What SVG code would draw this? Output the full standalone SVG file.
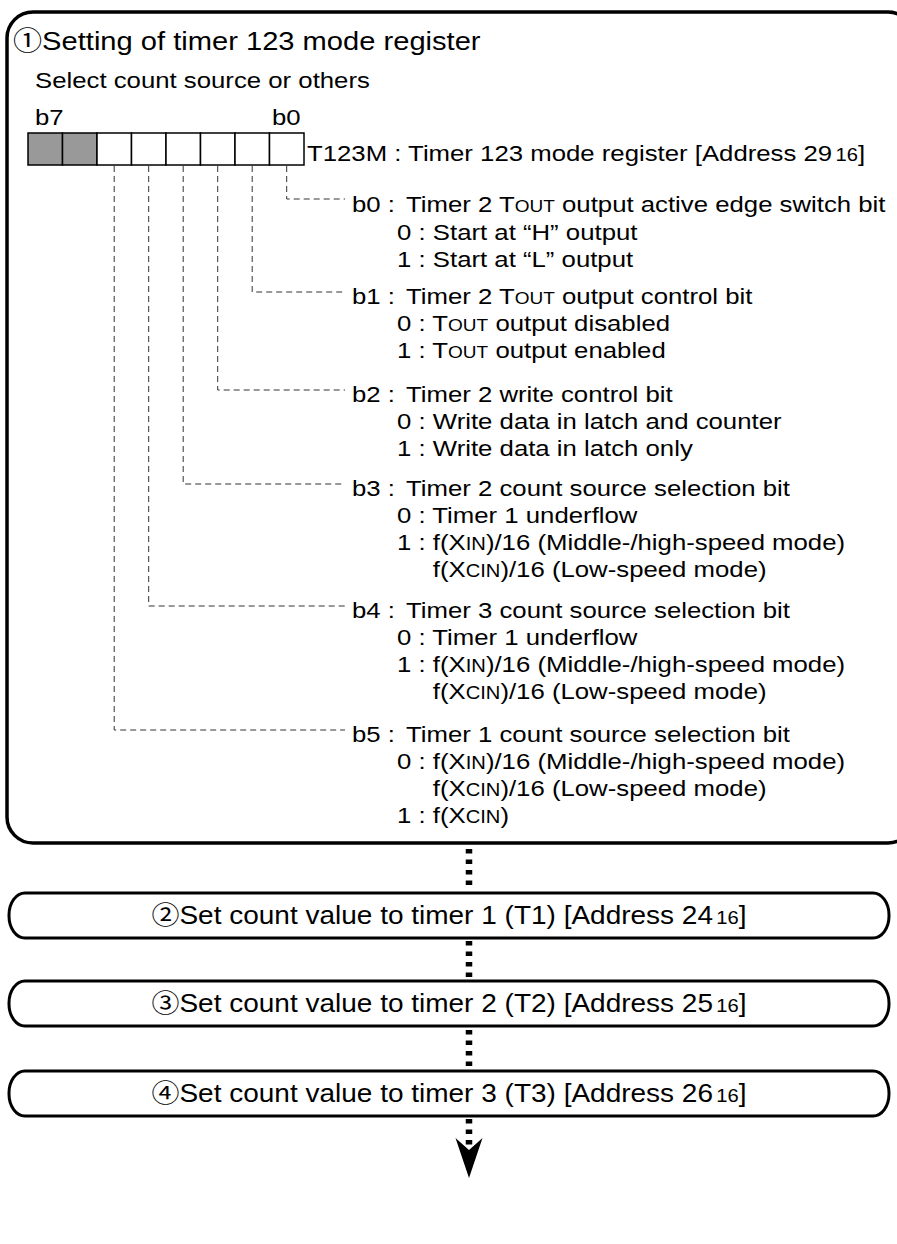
<svg xmlns="http://www.w3.org/2000/svg" width="897" height="1244" viewBox="0 0 897 1244">
<style>
text{font-family:"Liberation Sans",Arial,"Noto Sans CJK JP",sans-serif;fill:#000}
.t{font-size:23px}
.ttl{font-size:26px}
.bx{font-size:25px}
.sc{font-size:17px}
.sub{font-size:18px}
.frame{fill:none;stroke:#000;stroke-width:3.5}
.proc{fill:#fff;stroke:#000;stroke-width:3}
.cell{fill:#fff;stroke:#000;stroke-width:1.5}
.cell.g{fill:#999}
.lead{fill:none;stroke:#333;stroke-width:1;stroke-dasharray:6 4}
.dots{fill:none;stroke:#000;stroke-width:6.5;stroke-dasharray:4.5 6}
</style>
<rect width="897" height="1244" fill="#fff"/>

<g id="node-t123m">
  <path class="frame" d="M7,38 A26,26 0 0 1 33,12 L888,12 A26,26 0 0 1 914,38 L914,817 A26,26 0 0 1 888,843 L33,843 A26,26 0 0 1 7,817 Z"/>
  <g id="register">
    <rect class="cell g" x="28" y="133" width="34.5" height="32"/>
    <rect class="cell g" x="62.5" y="133" width="34.5" height="32"/>
    <rect class="cell" x="97" y="133" width="34.5" height="32"/>
    <rect class="cell" x="131.5" y="133" width="34.5" height="32"/>
    <rect class="cell" x="166" y="133" width="34.5" height="32"/>
    <rect class="cell" x="200.5" y="133" width="34.5" height="32"/>
    <rect class="cell" x="235" y="133" width="34.5" height="32"/>
    <rect class="cell" x="269.5" y="133" width="34.5" height="32"/>
  </g>
  <g id="leaders">
    <path class="lead" d="M286.7,166 V199 H345"/>
    <path class="lead" d="M252.2,166 V292 H345"/>
    <path class="lead" d="M217.7,166 V390 H345"/>
    <path class="lead" d="M183.2,166 V484 H345"/>
    <path class="lead" d="M148.7,166 V606 H345"/>
    <path class="lead" d="M114.2,166 V730 H345"/>
  </g>
  <g transform="scale(1.12 1)">
    <text class="ttl" x="11.6" y="50">①Setting of timer 123 mode register</text>
    <text class="t" x="31.25" y="88">Select count source or others</text>
    <text class="t" x="31.25" y="125">b7</text>
    <text class="t" x="242.9" y="125">b0</text>
    <text class="t" x="274.1" y="161">T123M : Timer 123 mode register [Address 29<tspan class="sub" dx="3">16</tspan>]</text>

    <text class="t" x="314.3" y="212">b0 :</text>
    <text class="t" x="362.5" y="212">Timer 2 T<tspan class="sc">OUT</tspan> output active edge switch bit</text>
    <text class="t" x="354.5" y="240">0 : Start at “H” output</text>
    <text class="t" x="354.5" y="267">1 : Start at “L” output</text>

    <text class="t" x="314.3" y="304">b1 :</text>
    <text class="t" x="362.5" y="304">Timer 2 T<tspan class="sc">OUT</tspan> output control bit</text>
    <text class="t" x="354.5" y="331">0 : T<tspan class="sc">OUT</tspan> output disabled</text>
    <text class="t" x="354.5" y="358">1 : T<tspan class="sc">OUT</tspan> output enabled</text>

    <text class="t" x="314.3" y="402">b2 :</text>
    <text class="t" x="362.5" y="402">Timer 2 write control bit</text>
    <text class="t" x="354.5" y="429">0 : Write data in latch and counter</text>
    <text class="t" x="354.5" y="456">1 : Write data in latch only</text>

    <text class="t" x="314.3" y="496">b3 :</text>
    <text class="t" x="362.5" y="496">Timer 2 count source selection bit</text>
    <text class="t" x="354.5" y="523">0 : Timer 1 underflow</text>
    <text class="t" x="354.5" y="550">1 : f(X<tspan class="sub">IN</tspan>)/16 (Middle-/high-speed mode)</text>
    <text class="t" x="386.4" y="577">f(X<tspan class="sub">CIN</tspan>)/16 (Low-speed mode)</text>

    <text class="t" x="314.3" y="618">b4 :</text>
    <text class="t" x="362.5" y="618">Timer 3 count source selection bit</text>
    <text class="t" x="354.5" y="645">0 : Timer 1 underflow</text>
    <text class="t" x="354.5" y="672">1 : f(X<tspan class="sub">IN</tspan>)/16 (Middle-/high-speed mode)</text>
    <text class="t" x="386.4" y="699">f(X<tspan class="sub">CIN</tspan>)/16 (Low-speed mode)</text>

    <text class="t" x="314.3" y="742">b5 :</text>
    <text class="t" x="362.5" y="742">Timer 1 count source selection bit</text>
    <text class="t" x="354.5" y="769">0 : f(X<tspan class="sub">IN</tspan>)/16 (Middle-/high-speed mode)</text>
    <text class="t" x="386.4" y="796">f(X<tspan class="sub">CIN</tspan>)/16 (Low-speed mode)</text>
    <text class="t" x="354.5" y="823">1 : f(X<tspan class="sub">CIN</tspan>)</text>
  </g>
</g>

<g id="connectors">
  <line class="dots" x1="469" y1="849" x2="469" y2="891"/>
  <line class="dots" x1="469" y1="941" x2="469" y2="979"/>
  <line class="dots" x1="469" y1="1030" x2="469" y2="1069"/>
  <line class="dots" x1="469" y1="1119" x2="469" y2="1145"/>
  <path d="M455.5,1138 L469,1178 L482.5,1138 L469,1150 Z" fill="#000"/>
</g>

<g id="node-t1">
  <rect class="proc" x="9" y="893" width="880" height="45" rx="16" ry="22"/>
  <text class="bx" x="400.9" y="924" text-anchor="middle" transform="scale(1.12 1)">②Set count value to timer 1 (T1) [Address 24<tspan class="sub" dx="3">16</tspan>]</text>
</g>
<g id="node-t2">
  <rect class="proc" x="9" y="981" width="880" height="45" rx="16" ry="22"/>
  <text class="bx" x="400.9" y="1012" text-anchor="middle" transform="scale(1.12 1)">③Set count value to timer 2 (T2) [Address 25<tspan class="sub" dx="3">16</tspan>]</text>
</g>
<g id="node-t3">
  <rect class="proc" x="9" y="1071" width="880" height="45" rx="16" ry="22"/>
  <text class="bx" x="400.9" y="1102" text-anchor="middle" transform="scale(1.12 1)">④Set count value to timer 3 (T3) [Address 26<tspan class="sub" dx="3">16</tspan>]</text>
</g>
</svg>
